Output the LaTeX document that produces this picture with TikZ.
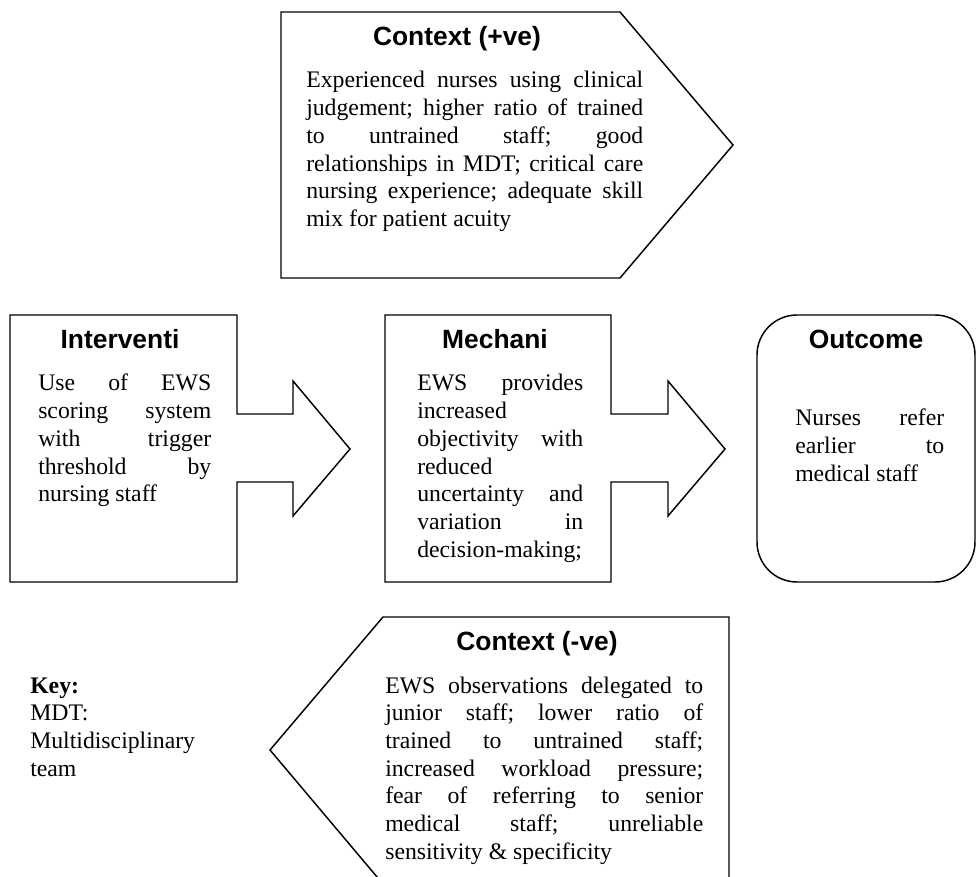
\documentclass[tikz,border=0pt]{standalone}
\usepackage{fontspec}
\setmainfont{Liberation Serif}
\newfontfamily\headfont{Liberation Sans}
\frenchspacing

\begin{document}
\begin{tikzpicture}[x=0.75pt,y=-0.75pt,
   outline/.style={draw,line width=1.1pt,line join=miter},
   head/.style={font=\headfont\bfseries\fontsize{19.8}{24}\selectfont,inner sep=0pt,anchor=base},
   body/.style={font=\fontsize{17.8}{20.8}\selectfont,inner sep=0pt,anchor=base west,
     align=justify,execute at begin node={\frenchspacing\hyphenpenalty=10000\exhyphenpenalty=10000\tolerance=10000\hbadness=10000}}]
   \useasboundingbox (0,0) rectangle (976,877);

   % outlines
   \draw[outline] (281,12) -- (620,12) -- (733,145) -- (620,278) -- (281,278) -- cycle;
   \draw[outline] (10,315) -- (237,315) -- (237,414) -- (293,414) -- (293,381) -- (350,449)
      -- (293,516) -- (293,482) -- (237,482) -- (237,582) -- (10,582) -- cycle;
   \draw[outline] (385,315) -- (611,315) -- (611,414) -- (668,414) -- (668,381) -- (725,449)
      -- (668,516) -- (668,482) -- (611,482) -- (611,582) -- (385,582) -- cycle;
   \draw[outline,rounded corners=30pt] (757,315) rectangle (975,582);
   \draw[outline] (383,617) -- (729,617) -- (729,884) -- (383,884) -- (270,750) -- cycle;

   % headings
   \node[head] (ctxposh) at (457,46) {Context (+ve)};
   \node[head] (intvh) at (120,349) {Interventi};
   \node[head] (mechh) at (495,349) {Mechani};
   \node[head] (outch) at (866,349) {Outcome};
   \node[head] (ctxnegh) at (537,650) {Context (-ve)};

   % texts
   \node[body,text width=252.75pt] (ctxpos) at (306,88) {Experienced nurses using clinical\linebreak
      judgement; higher ratio of trained\linebreak to untrained staff; good\linebreak
      relationships in MDT; critical care\linebreak nursing experience; adequate skill\linebreak
      mix for patient acuity};
   \node[body,text width=129.75pt] (intv) at (38,391) {Use of EWS\linebreak scoring system\linebreak
      with trigger\linebreak threshold by\linebreak nursing staff};
   \node[body,text width=124.5pt] (mech) at (417,391) {EWS provides\linebreak increased\linebreak
      objectivity with\linebreak reduced\linebreak uncertainty and\linebreak variation in\linebreak
      decision-making;};
   \node[body,text width=111.75pt] (outc) at (795,426) {Nurses refer\linebreak earlier to\linebreak
      medical staff};
   \node[body,text width=238.5pt] (ctxneg) at (385,693) {EWS observations delegated to\linebreak
      junior staff; lower ratio of\linebreak trained to untrained staff;\linebreak
      increased workload pressure;\linebreak fear of referring to senior\linebreak
      medical staff; unreliable\linebreak sensitivity \& specificity};
   \node[body,text width=150pt,align=left] (key) at (30,693) {\textbf{Key:}\\MDT:\\Multidisciplinary\\team};
\end{tikzpicture}
\end{document}
